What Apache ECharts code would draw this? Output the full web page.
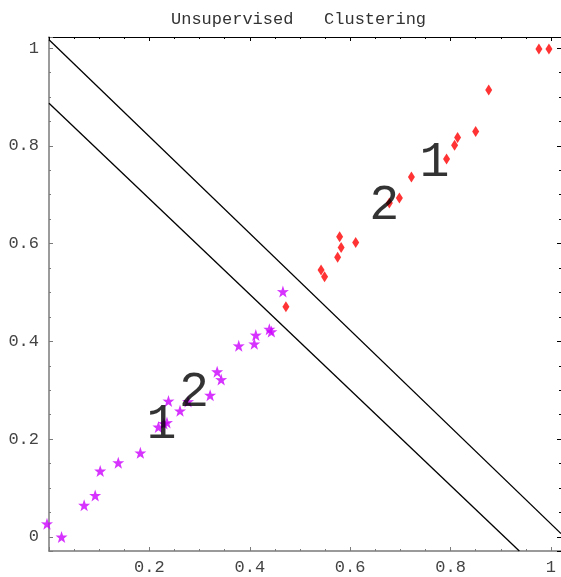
<!DOCTYPE html>
<html>
<head>
<meta charset="utf-8">
<script src="https://cdn.jsdelivr.net/npm/echarts@6/dist/echarts.min.js"></script>
<style>
  html, body { margin: 0; padding: 0; background: #fff; }
  #chart { width: 561px; height: 577px; }
</style>
</head>
<body>
<div id="chart"></div>
<script>
// ---- data ----
var titleText = 'Unsupervised   Clustering';

// cluster of stars (magenta)
var starX = [-0.004, 0.025, 0.070, 0.092, 0.102, 0.138, 0.182, 0.218, 0.229, 0.235, 0.238, 0.261, 0.277, 0.321, 0.335, 0.343, 0.378, 0.409, 0.412, 0.439, 0.443, 0.466];
var starY = [0.027, 0.000, 0.065, 0.085, 0.135, 0.152, 0.172, 0.225, 0.232, 0.234, 0.278, 0.258, 0.277, 0.290, 0.338, 0.322, 0.391, 0.395, 0.413, 0.425, 0.420, 0.502];

// cluster of diamonds (red)
var diamondX = [0.976, 0.996, 0.876, 0.850, 0.814, 0.808, 0.792, 0.722, 0.698, 0.678, 0.611, 0.579, 0.582, 0.575, 0.542, 0.549, 0.472];
var diamondY = [0.998, 0.998, 0.914, 0.829, 0.817, 0.801, 0.773, 0.736, 0.693, 0.683, 0.602, 0.614, 0.592, 0.572, 0.546, 0.532, 0.471];

// separating lines (end points)
var upperLine = [[0, 1.017], [1.02, 0.007]];
var lowerLine = [[0, 0.887], [0.937, -0.0287]];

// big text labels
var labelText = ['1', '2', '2', '1'];
var labelX = [0.224, 0.289, 0.668, 0.768];
var labelY = [0.229, 0.294, 0.677, 0.765];

// axes
var xRange = [0, 1.02];
var yRange = [-0.0287, 1.0225];
var majorStep = 0.2;
var minorStep = 0.05;

// ---- build ----
function zip(a, b) { return a.map(function (v, i) { return [v, b[i]]; }); }
var FONT = '"Liberation Mono", "DejaVu Sans Mono", monospace';
var GRAY = '#7a7a7a';

function fmt(hideZero) {
  return function (v) {
    var k = v / majorStep;
    if (Math.abs(k - Math.round(k)) > 1e-6) return '';
    var r = Math.round(k) * majorStep;
    if (hideZero && Math.abs(r) < 1e-9) return '';
    return String(parseFloat(r.toFixed(1)));
  };
}

function axisSet(kind, range, pos, lineColor, lineWidth, withLabels, hideZero) {
  var base = {
    type: 'value', min: range[0], max: range[1], position: pos, offset: 0,
    splitLine: { show: false }, scale: false
  };
  var major = Object.assign({}, base, {
    minInterval: majorStep, maxInterval: majorStep, splitNumber: 5,
    axisLine: { show: true, onZero: false, lineStyle: { color: lineColor, width: lineWidth } },
    axisTick: { show: true, inside: true, length: 4, lineStyle: { color: lineColor, width: 1 } },
    axisLabel: withLabels ? {
      show: true, formatter: fmt(hideZero), color: '#444', fontFamily: FONT, fontSize: 17,
      margin: kind === 'x' ? 8 : 10, showMinLabel: true, showMaxLabel: true
    } : { show: false }
  });
  var minor = Object.assign({}, base, {
    minInterval: minorStep, maxInterval: minorStep, splitNumber: 20,
    axisLine: { show: false, onZero: false },
    axisTick: { show: true, inside: true, length: 2, lineStyle: { color: lineColor, width: 1 } },
    axisLabel: { show: false }
  });
  return [major, minor];
}

var xAxes = axisSet('x', xRange, 'bottom', GRAY, 1.5, true, true)
  .concat(axisSet('x', xRange, 'top', '#000', 1, false, false));
var yAxes = axisSet('y', yRange, 'left', GRAY, 1.5, true, false)
  .concat(axisSet('y', yRange, 'right', '#000', 1, false, false));

var starPath = 'path://M50,0 L61.8,35.1 L97.6,34.5 L69.1,56.2 L79.4,90.5 L50,70 L20.6,90.5 L30.9,56.2 L2.4,34.5 L38.2,35.1 Z';

var chart = echarts.init(document.getElementById('chart'), null, { renderer: 'canvas' });
chart.setOption({
  animation: false,
  backgroundColor: '#fff',
  title: {
    text: titleText, left: 166, top: 6,
    textStyle: { fontFamily: FONT, fontSize: 17, fontWeight: 'normal', color: '#333' }
  },
  grid: { left: 49, right: 0, top: 37, bottom: 26, containLabel: false, outerBoundsMode: 'none' },
  xAxis: xAxes,
  yAxis: yAxes,
  series: [
    {
      type: 'line', data: upperLine, xAxisIndex: 0, yAxisIndex: 0, symbol: 'none',
      lineStyle: { color: '#000', width: 1.3 }, silent: true, clip: true
    },
    {
      type: 'line', data: lowerLine, xAxisIndex: 0, yAxisIndex: 0, symbol: 'none',
      lineStyle: { color: '#000', width: 1.3 }, silent: true, clip: true
    },
    {
      type: 'scatter', data: zip(starX, starY), xAxisIndex: 0, yAxisIndex: 0,
      symbol: starPath, symbolSize: 12, itemStyle: { color: '#cc00ff' }, clip: false
    },
    {
      type: 'scatter', data: zip(diamondX, diamondY), xAxisIndex: 0, yAxisIndex: 0,
      symbol: 'diamond', symbolSize: [7, 11], itemStyle: { color: '#ff0000' }, clip: false
    },
    {
      type: 'scatter', xAxisIndex: 0, yAxisIndex: 0, symbolSize: 0,
      data: labelText.map(function (t, i) { return [labelX[i], labelY[i], t]; }),
      label: {
        show: true, position: 'inside', formatter: function (p) { return p.value[2]; },
        fontFamily: FONT, fontSize: 50, color: '#000'
      },
      z: 5
    }
  ]
});
</script>
</body>
</html>
